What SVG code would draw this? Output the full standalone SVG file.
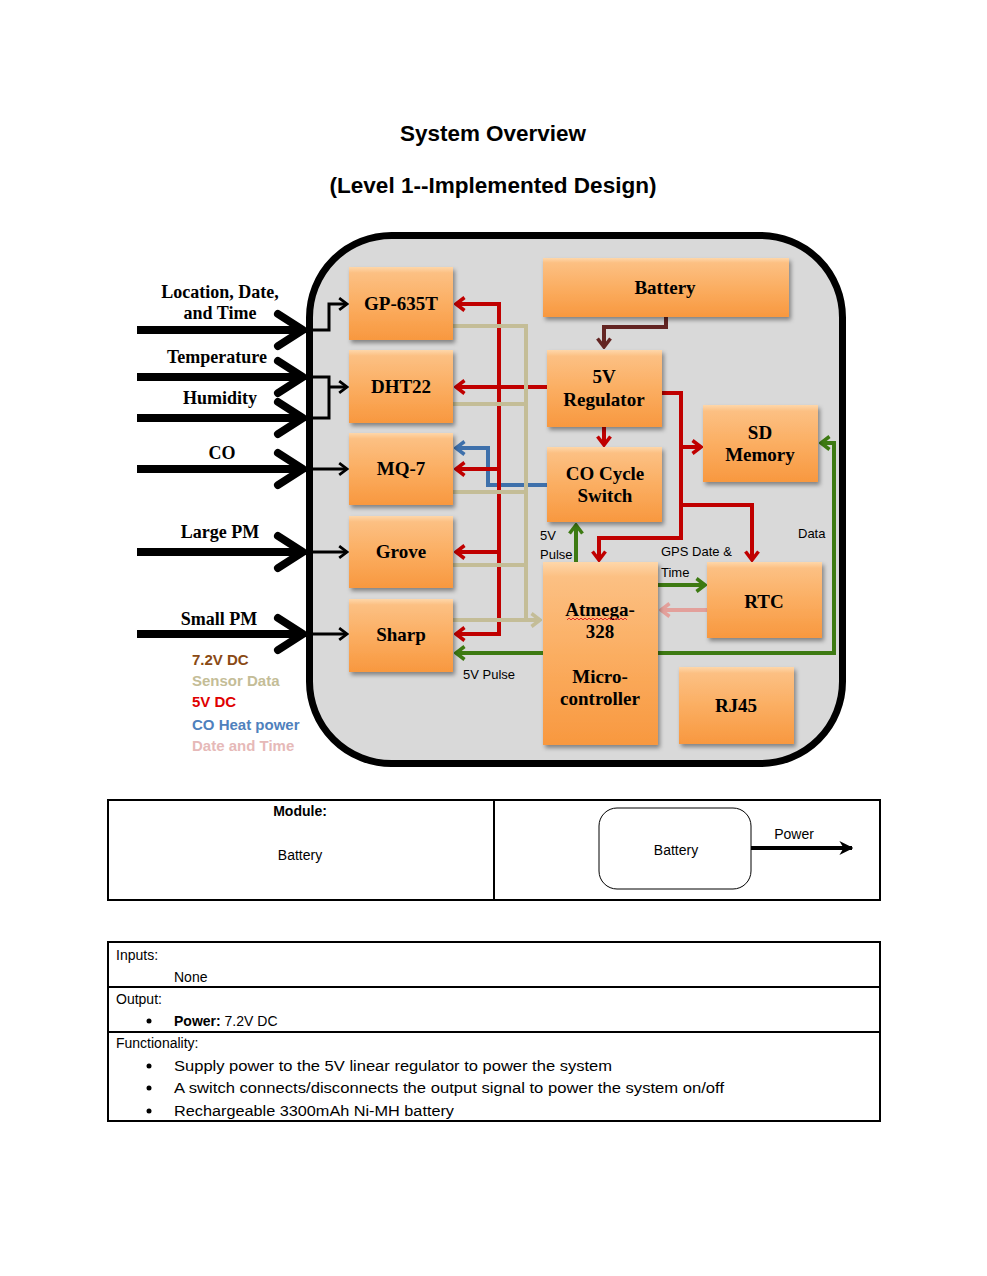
<svg xmlns="http://www.w3.org/2000/svg" width="987" height="1276" viewBox="0 0 987 1276">
<style>
.title{font-family:"Liberation Sans",Arial,sans-serif;font-weight:bold;font-size:22px;fill:#000;text-anchor:middle}
.node rect{fill:url(#og);filter:url(#sh)}
.nl{font-family:"Liberation Serif","Times New Roman",serif;font-weight:bold;font-size:19px;fill:#000;text-anchor:middle}
.il{font-family:"Liberation Serif","Times New Roman",serif;font-weight:bold;font-size:18px;fill:#000;text-anchor:middle}
.lg{font-family:"Liberation Sans",Arial,sans-serif;font-weight:bold;font-size:15px}
.sm{font-family:"Liberation Sans",Arial,sans-serif;font-size:13px;fill:#000}
.tb{font-family:"Liberation Sans",Arial,sans-serif;font-size:14px;fill:#000}
.big{fill:none;stroke:#000;stroke-width:8}
.bigh{fill:none;stroke:#000;stroke-width:8;stroke-linecap:round;stroke-linejoin:round}
.thin{fill:none;stroke:#000;stroke-width:3}
.red{fill:none;stroke:#c00000;stroke-width:4}
.tan{fill:none;stroke:#c4bd97;stroke-width:4}
.blu{fill:none;stroke:#3e70ab;stroke-width:4}
.brn{fill:none;stroke:#632523;stroke-width:4}
.grn{fill:none;stroke:#3d7a12;stroke-width:4}
.pnk{fill:none;stroke:#e3a09b;stroke-width:4}
</style>
<defs>
<linearGradient id="og" x1="0" y1="0" x2="0" y2="1">
<stop offset="0" stop-color="#fed7aa"/>
<stop offset="0.08" stop-color="#fcc083"/>
<stop offset="0.5" stop-color="#fbae62"/>
<stop offset="1" stop-color="#f8983f"/>
</linearGradient>
<filter id="sh" x="-10%" y="-10%" width="130%" height="130%">
<feDropShadow dx="2" dy="3" stdDeviation="2" flood-color="#000" flood-opacity="0.4"/>
</filter>
<marker id="mr" viewBox="0 0 12 16" refX="10" refY="8" markerWidth="12" markerHeight="16" markerUnits="userSpaceOnUse" orient="auto"><path d="M1.5,1.5 L10,8 L1.5,14.5" fill="none" stroke="#c00000" stroke-width="3.5"/></marker>
<marker id="mt" viewBox="0 0 12 16" refX="10" refY="8" markerWidth="12" markerHeight="16" markerUnits="userSpaceOnUse" orient="auto"><path d="M1.5,1.5 L10,8 L1.5,14.5" fill="none" stroke="#c4bd97" stroke-width="3.5"/></marker>
<marker id="mb" viewBox="0 0 12 16" refX="10" refY="8" markerWidth="12" markerHeight="16" markerUnits="userSpaceOnUse" orient="auto"><path d="M1.5,1.5 L10,8 L1.5,14.5" fill="none" stroke="#3e70ab" stroke-width="3.5"/></marker>
<marker id="mn" viewBox="0 0 12 16" refX="10" refY="8" markerWidth="12" markerHeight="16" markerUnits="userSpaceOnUse" orient="auto"><path d="M1.5,1.5 L10,8 L1.5,14.5" fill="none" stroke="#632523" stroke-width="3.5"/></marker>
<marker id="mg" viewBox="0 0 12 16" refX="10" refY="8" markerWidth="12" markerHeight="16" markerUnits="userSpaceOnUse" orient="auto"><path d="M1.5,1.5 L10,8 L1.5,14.5" fill="none" stroke="#3d7a12" stroke-width="3.5"/></marker>
<marker id="mp" viewBox="0 0 12 16" refX="10" refY="8" markerWidth="12" markerHeight="16" markerUnits="userSpaceOnUse" orient="auto"><path d="M1.5,1.5 L10,8 L1.5,14.5" fill="none" stroke="#e3a09b" stroke-width="3.5"/></marker>
<marker id="mk" viewBox="0 0 12 16" refX="10" refY="8" markerWidth="11" markerHeight="15" markerUnits="userSpaceOnUse" orient="auto"><path d="M1.5,1.5 L10,8 L1.5,14.5" fill="none" stroke="#000" stroke-width="3"/></marker>
<marker id="mf" viewBox="0 0 10 10" refX="9" refY="5" markerWidth="14" markerHeight="14" markerUnits="userSpaceOnUse" orient="auto"><path d="M0,0 L10,5 L0,10 L3,5 Z" fill="#000"/></marker>
</defs>

<rect width="987" height="1276" fill="#fff"/>

<text class="title" x="493" y="141" textLength="186" lengthAdjust="spacingAndGlyphs">System Overview</text>
<text class="title" x="493" y="193" textLength="327" lengthAdjust="spacingAndGlyphs">(Level 1--Implemented Design)</text>

<g id="container">
<rect x="309.5" y="235.5" width="533" height="528" rx="82" ry="82" fill="#d9d9d9" stroke="#000" stroke-width="7"/>
</g>

<g id="inputs">
<text class="il" x="220" y="298">Location, Date,</text>
<text class="il" x="220" y="319">and Time</text>
<text class="il" x="217" y="363">Temperature</text>
<text class="il" x="220" y="404">Humidity</text>
<text class="il" x="222" y="459">CO</text>
<text class="il" x="220" y="538">Large PM</text>
<text class="il" x="219" y="625">Small PM</text>
<path class="big" d="M137,330 H300 M137,377 H300 M137,418 H300 M137,469 H300 M137,552 H300 M137,634 H300"/>
<path class="bigh" d="M278,314 L303,330 L278,346 M278,361 L303,377 L278,393 M278,402 L303,418 L278,434 M278,453 L303,469 L278,485 M278,536 L303,552 L278,568 M278,618 L303,634 L278,650"/>
</g>

<g id="connectors">
<!-- thin black input arrows -->
<path class="thin" d="M305,330 H329 V304 H347" marker-end="url(#mk)"/>
<path class="thin" d="M305,377 H329 V418 H305 M329,387 H347" marker-end="url(#mk)"/>
<path class="thin" d="M305,469 H347" marker-end="url(#mk)"/>
<path class="thin" d="M305,552 H347" marker-end="url(#mk)"/>
<path class="thin" d="M305,634 H347" marker-end="url(#mk)"/>
<!-- blue CO heat power -->
<path class="blu" d="M547,485 H488 V448 H456" marker-end="url(#mb)"/>
<!-- red 5V DC -->
<path class="red" d="M499,302 V636"/>
<path class="red" d="M499,304 H456" marker-end="url(#mr)"/>
<path class="red" d="M547,387 H456" marker-end="url(#mr)"/>
<path class="red" d="M499,469 H456" marker-end="url(#mr)"/>
<path class="red" d="M499,552 H456" marker-end="url(#mr)"/>
<path class="red" d="M499,634 H456" marker-end="url(#mr)"/>
<path class="red" d="M604,427 V445" marker-end="url(#mr)"/>
<path class="red" d="M662,393 H681 V538 H599 V560" marker-end="url(#mr)"/>
<path class="red" d="M681,447 H701" marker-end="url(#mr)"/>
<path class="red" d="M681,505 H752 V560" marker-end="url(#mr)"/>
<!-- tan sensor data -->
<path class="tan" d="M453,326 H526 V620 M453,404 H526 M453,492 H526 M453,565 H526"/>
<path class="tan" d="M453,620 H540" marker-end="url(#mt)"/>
<!-- brown 7.2V -->
<path class="brn" d="M666,317 V327 H604 V347" marker-end="url(#mn)"/>
<!-- green -->
<path class="grn" d="M576,562 V525" marker-end="url(#mg)"/>
<path class="grn" d="M658,585 H705" marker-end="url(#mg)"/>
<path class="grn" d="M658,653 H834 V443 H821" marker-end="url(#mg)"/>
<path class="grn" d="M543,653 H456" marker-end="url(#mg)"/>
<!-- pink date and time -->
<path class="pnk" d="M707,610 H661" marker-end="url(#mp)"/>
<text class="sm" x="540" y="540">5V</text>
<text class="sm" x="540" y="559">Pulse</text>
<text class="sm" x="661" y="556" font-size="12">GPS Date &amp;</text>
<text class="sm" x="661" y="577" font-size="12">Time</text>
<text class="sm" x="798" y="538" font-size="14">Data</text>
<text class="sm" x="463" y="679" font-size="14">5V Pulse</text>
</g>

<g id="gp635t" class="node"><rect x="349" y="267" width="104" height="73"/><text class="nl" x="401" y="310">GP-635T</text></g>
<g id="dht22" class="node"><rect x="349" y="350" width="104" height="73"/><text class="nl" x="401" y="393">DHT22</text></g>
<g id="mq7" class="node"><rect x="349" y="433" width="104" height="72"/><text class="nl" x="401" y="475">MQ-7</text></g>
<g id="grove" class="node"><rect x="349" y="516" width="104" height="72"/><text class="nl" x="401" y="558">Grove</text></g>
<g id="sharp" class="node"><rect x="349" y="599" width="104" height="73"/><text class="nl" x="401" y="641">Sharp</text></g>
<g id="battery" class="node"><rect x="543" y="258" width="246" height="59"/><text class="nl" x="665" y="294">Battery</text></g>
<g id="regulator" class="node"><rect x="547" y="350" width="115" height="77"/><text class="nl" x="604" y="383">5V</text><text class="nl" x="604" y="406">Regulator</text></g>
<g id="coswitch" class="node"><rect x="547" y="447" width="115" height="75"/><text class="nl" x="605" y="480">CO Cycle</text><text class="nl" x="605" y="502">Switch</text></g>
<g id="sdmemory" class="node"><rect x="703" y="405" width="115" height="77"/><text class="nl" x="760" y="439">SD</text><text class="nl" x="760" y="461">Memory</text></g>
<g id="atmega" class="node"><rect x="543" y="562" width="115" height="183"/><text class="nl" x="600" y="616">Atmega-</text><path d="M567,620 l2,-2 l2,2 l2,-2 l2,2 l2,-2 l2,2 l2,-2 l2,2 l2,-2 l2,2 l2,-2 l2,2 l2,-2 l2,2 l2,-2 l2,2 l2,-2 l2,2 l2,-2 l2,2 l2,-2 l2,2 l2,-2 l2,2 l2,-2 l2,2 l2,-2 l2,2 l2,-2 l2,2" fill="none" stroke="#e02020" stroke-width="1"/><text class="nl" x="600" y="638">328</text><text class="nl" x="600" y="683">Micro-</text><text class="nl" x="600" y="705">controller</text></g>
<g id="rtc" class="node"><rect x="707" y="562" width="115" height="76"/><text class="nl" x="764" y="608">RTC</text></g>
<g id="rj45" class="node"><rect x="679" y="667" width="115" height="77"/><text class="nl" x="736" y="712">RJ45</text></g>

<g id="legend">
<text class="lg" x="192" y="665" fill="#8a4a14">7.2V DC</text>
<text class="lg" x="192" y="686" fill="#c4bd97">Sensor Data</text>
<text class="lg" x="192" y="707" fill="#e00000">5V DC</text>
<text class="lg" x="192" y="730" fill="#4f81bd">CO Heat power</text>
<text class="lg" x="192" y="751" fill="#e6b9b8">Date and Time</text>
</g>

<g id="module-table">
<rect x="108" y="800" width="772" height="100" fill="none" stroke="#000" stroke-width="2"/>
<line x1="494" y1="800" x2="494" y2="900" stroke="#000" stroke-width="2"/>
<text class="tb" x="300" y="816" text-anchor="middle" font-weight="bold">Module:</text>
<text class="tb" x="300" y="860" text-anchor="middle">Battery</text>
<rect x="599" y="808" width="152" height="81" rx="18" ry="18" fill="#fff" stroke="#000" stroke-width="1"/>
<text class="tb" x="676" y="855" text-anchor="middle">Battery</text>
<path d="M751,848 H852" fill="none" stroke="#000" stroke-width="4" marker-end="url(#mf)"/>
<text class="tb" x="794" y="839" text-anchor="middle">Power</text>
</g>

<g id="spec-table">
<rect x="108" y="942" width="772" height="179" fill="none" stroke="#000" stroke-width="2"/>
<line x1="108" y1="987" x2="880" y2="987" stroke="#000" stroke-width="2"/>
<line x1="108" y1="1032" x2="880" y2="1032" stroke="#000" stroke-width="2"/>
<text class="tb" x="116" y="960">Inputs:</text>
<text class="tb" x="174" y="982">None</text>
<text class="tb" x="116" y="1004">Output:</text>
<circle cx="149" cy="1021" r="2.5" fill="#000"/>
<text class="tb" x="174" y="1026"><tspan font-weight="bold">Power:</tspan> 7.2V DC</text>
<text class="tb" x="116" y="1048">Functionality:</text>
<circle cx="149" cy="1066" r="2.5" fill="#000"/>
<text class="tb" x="174" y="1071" textLength="438" lengthAdjust="spacingAndGlyphs">Supply power to the 5V linear regulator to power the system</text>
<circle cx="149" cy="1088" r="2.5" fill="#000"/>
<text class="tb" x="174" y="1093" textLength="550" lengthAdjust="spacingAndGlyphs">A switch connects/disconnects the output signal to power the system on/off</text>
<circle cx="149" cy="1111" r="2.5" fill="#000"/>
<text class="tb" x="174" y="1116" textLength="280" lengthAdjust="spacingAndGlyphs">Rechargeable 3300mAh Ni-MH battery</text>
</g>
</svg>
